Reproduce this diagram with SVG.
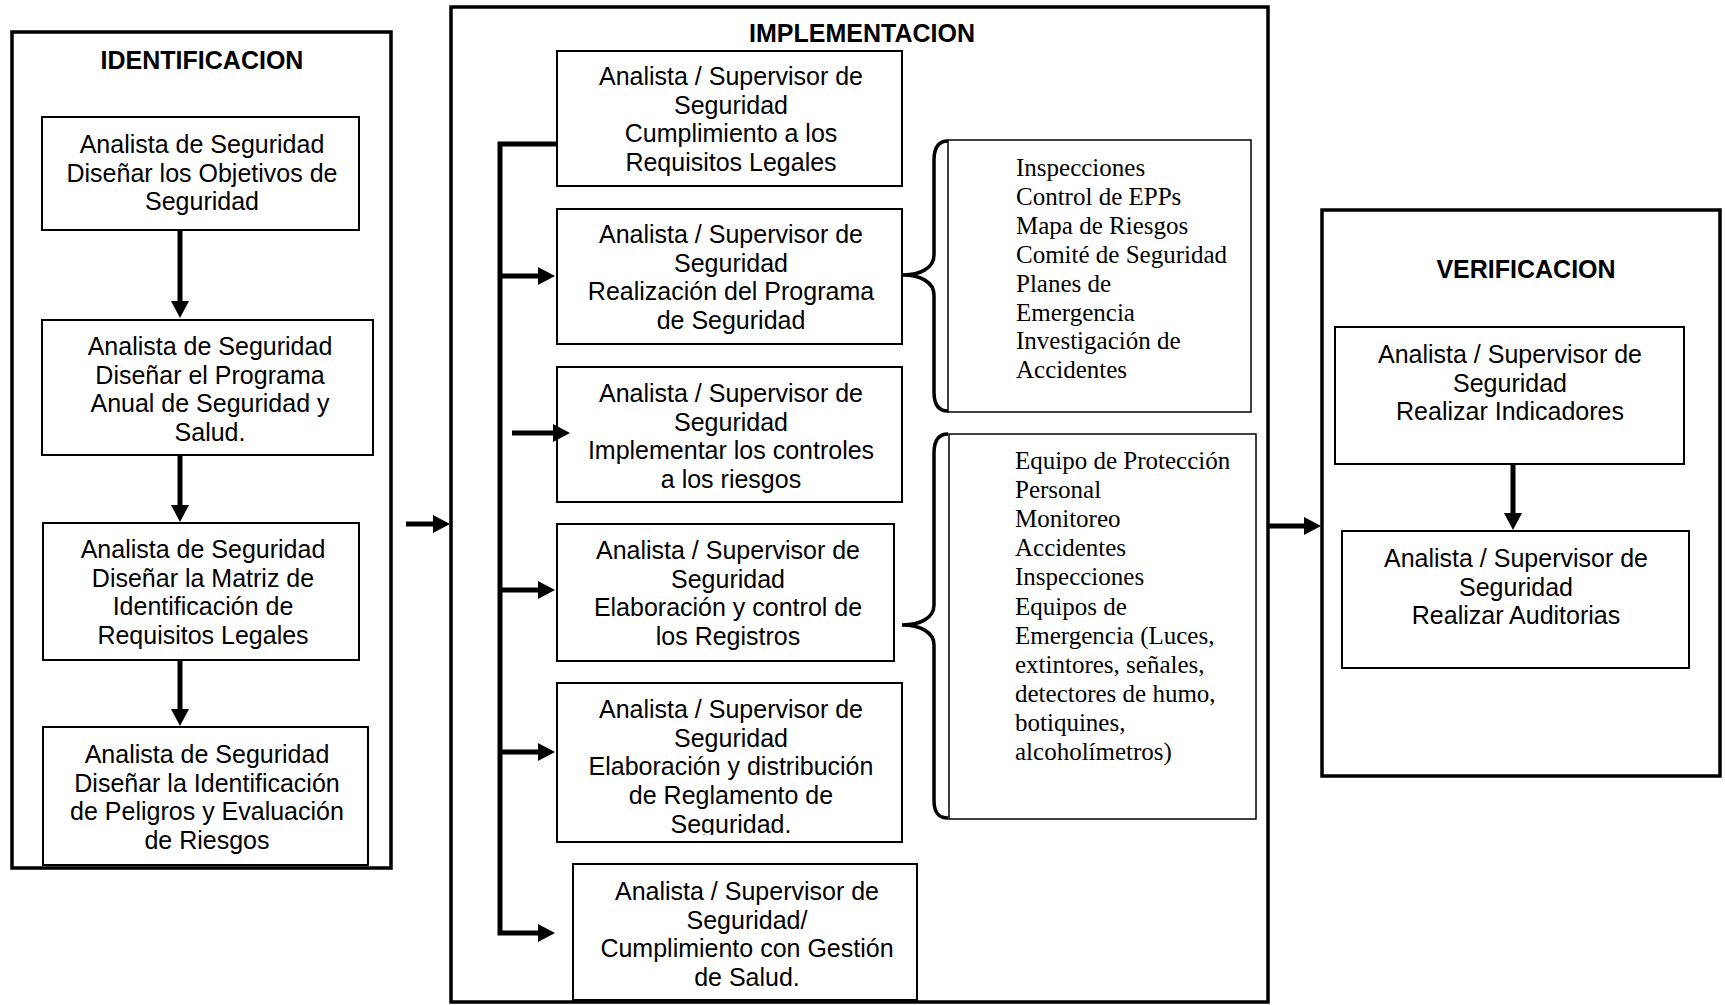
<svg xmlns="http://www.w3.org/2000/svg" width="1725" height="1005" viewBox="0 0 1725 1005">
  <style>
    .frame { fill: none; stroke: #000; stroke-width: 3.5; }
    .box { fill: #fff; stroke: #000; stroke-width: 2; }
    .list { fill: none; stroke: #000; stroke-width: 1.5; }
    .brace { fill: none; stroke: #000; stroke-width: 3.5; }
    .wire { fill: none; stroke: #000; stroke-width: 5; }
    .t { font-family: "Liberation Sans", Arial, sans-serif; font-size: 25px; fill: #000; text-anchor: middle; }
    .h { font-family: "Liberation Sans", Arial, sans-serif; font-size: 25px; font-weight: bold; fill: #000; text-anchor: middle; }
    .s { font-family: "Liberation Serif", "Times New Roman", serif; font-size: 25px; fill: #000; }
  </style>
  <defs>
    <marker id="head" markerUnits="userSpaceOnUse" markerWidth="18" markerHeight="20" refX="0" refY="9" orient="auto" overflow="visible">
      <path d="M0,0 L17,9 L0,18 Z" fill="#000"/>
    </marker>
    <clipPath id="clipI5">
      <rect x="557" y="683" width="345" height="152"/>
    </clipPath>
  </defs>

  <!-- IDENTIFICACION stage -->
  <g id="identificacion">
    <rect class="frame" x="12" y="32" width="379" height="836"/>
    <text class="h" x="202" y="69">IDENTIFICACION</text>
  </g>
  <g id="id1">
    <rect class="box" x="42" y="117" width="317" height="113"/>
    <text class="t" x="202" y="153">Analista de Seguridad</text>
    <text class="t" x="202" y="181.5">Diseñar los Objetivos de</text>
    <text class="t" x="202" y="210">Seguridad</text>
  </g>
  <g id="id2">
    <rect class="box" x="42" y="320" width="331" height="135"/>
    <text class="t" x="210" y="355">Analista de Seguridad</text>
    <text class="t" x="210" y="383.5">Diseñar el Programa</text>
    <text class="t" x="210" y="412">Anual de Seguridad y</text>
    <text class="t" x="210" y="440.5">Salud.</text>
  </g>
  <g id="id3">
    <rect class="box" x="43" y="523" width="316" height="137"/>
    <text class="t" x="203" y="558">Analista de Seguridad</text>
    <text class="t" x="203" y="586.5">Diseñar la Matriz de</text>
    <text class="t" x="203" y="615">Identificación de</text>
    <text class="t" x="203" y="643.5">Requisitos Legales</text>
  </g>
  <g id="id4">
    <rect class="box" x="43" y="727" width="325" height="138"/>
    <text class="t" x="207" y="763">Analista de Seguridad</text>
    <text class="t" x="207" y="791.5">Diseñar la Identificación</text>
    <text class="t" x="207" y="820">de Peligros y Evaluación</text>
    <text class="t" x="207" y="848.5">de Riesgos</text>
  </g>

  <!-- IMPLEMENTACION stage -->
  <g id="implementacion">
    <rect class="frame" x="451" y="7" width="817" height="995"/>
    <text class="h" x="862" y="42">IMPLEMENTACION</text>
  </g>
  <g id="imp1">
    <rect class="box" x="557" y="51" width="345" height="135"/>
    <text class="t" x="731" y="85">Analista / Supervisor de</text>
    <text class="t" x="731" y="113.5">Seguridad</text>
    <text class="t" x="731" y="142">Cumplimiento a los</text>
    <text class="t" x="731" y="170.5">Requisitos Legales</text>
  </g>
  <g id="imp2">
    <rect class="box" x="557" y="209" width="345" height="135"/>
    <text class="t" x="731" y="243">Analista / Supervisor de</text>
    <text class="t" x="731" y="271.5">Seguridad</text>
    <text class="t" x="731" y="300">Realización del Programa</text>
    <text class="t" x="731" y="328.5">de Seguridad</text>
  </g>
  <g id="imp3">
    <rect class="box" x="557" y="367" width="345" height="135"/>
    <text class="t" x="731" y="402">Analista / Supervisor de</text>
    <text class="t" x="731" y="430.5">Seguridad</text>
    <text class="t" x="731" y="459">Implementar los controles</text>
    <text class="t" x="731" y="487.5">a los riesgos</text>
  </g>
  <g id="imp4">
    <rect class="box" x="557" y="524" width="337" height="137"/>
    <text class="t" x="728" y="559">Analista / Supervisor de</text>
    <text class="t" x="728" y="587.5">Seguridad</text>
    <text class="t" x="728" y="616">Elaboración y control de</text>
    <text class="t" x="728" y="644.5">los Registros</text>
  </g>
  <g id="imp5">
    <rect class="box" x="557" y="683" width="345" height="159"/>
    <text class="t" x="731" y="718">Analista / Supervisor de</text>
    <text class="t" x="731" y="746.5">Seguridad</text>
    <text class="t" x="731" y="775">Elaboración y distribución</text>
    <text class="t" x="731" y="803.5">de Reglamento de</text>
    <text class="t" x="731" y="833" clip-path="url(#clipI5)">Seguridad.</text>
  </g>
  <g id="imp6">
    <rect class="box" x="573" y="864" width="344" height="136"/>
    <text class="t" x="747" y="900">Analista / Supervisor de</text>
    <text class="t" x="747" y="928.5">Seguridad/</text>
    <text class="t" x="747" y="957">Cumplimiento con Gestión</text>
    <text class="t" x="747" y="985.5">de Salud.</text>
  </g>
  <g id="lista1">
    <rect class="list" x="948" y="140" width="303" height="272"/>
    <text class="s" x="1016" y="176">Inspecciones</text>
    <text class="s" x="1016" y="204.9">Control de EPPs</text>
    <text class="s" x="1016" y="233.8">Mapa de Riesgos</text>
    <text class="s" x="1016" y="262.7">Comité de Seguridad</text>
    <text class="s" x="1016" y="291.6">Planes de</text>
    <text class="s" x="1016" y="320.5">Emergencia</text>
    <text class="s" x="1016" y="349.4">Investigación de</text>
    <text class="s" x="1016" y="378.3">Accidentes</text>
  </g>
  <g id="lista2">
    <rect class="list" x="949" y="434" width="307" height="385"/>
    <text class="s" x="1015" y="469">Equipo de Protección</text>
    <text class="s" x="1015" y="498.1">Personal</text>
    <text class="s" x="1015" y="527.2">Monitoreo</text>
    <text class="s" x="1015" y="556.3">Accidentes</text>
    <text class="s" x="1015" y="585.4">Inspecciones</text>
    <text class="s" x="1015" y="614.5">Equipos de</text>
    <text class="s" x="1015" y="643.6">Emergencia (Luces,</text>
    <text class="s" x="1015" y="672.7">extintores, señales,</text>
    <text class="s" x="1015" y="701.8">detectores de humo,</text>
    <text class="s" x="1015" y="730.9">botiquines,</text>
    <text class="s" x="1015" y="760">alcoholímetros)</text>
  </g>

  <!-- VERIFICACION stage -->
  <g id="verificacion">
    <rect class="frame" x="1322" y="210" width="398" height="566"/>
    <text class="h" x="1526" y="278">VERIFICACION</text>
  </g>
  <g id="ver1">
    <rect class="box" x="1335" y="327" width="349" height="137"/>
    <text class="t" x="1510" y="363">Analista / Supervisor de</text>
    <text class="t" x="1510" y="391.5">Seguridad</text>
    <text class="t" x="1510" y="420">Realizar Indicadores</text>
  </g>
  <g id="ver2">
    <rect class="box" x="1342" y="531" width="347" height="137"/>
    <text class="t" x="1516" y="567">Analista / Supervisor de</text>
    <text class="t" x="1516" y="595.5">Seguridad</text>
    <text class="t" x="1516" y="624">Realizar Auditorias</text>
  </g>

  <!-- connectors -->
  <g id="connectors">
    <path class="wire" d="M180,230 V301" marker-end="url(#head)"/>
    <path class="wire" d="M180,455 V505" marker-end="url(#head)"/>
    <path class="wire" d="M180,660 V709" marker-end="url(#head)"/>
    <path class="wire" d="M406,524 H433" marker-end="url(#head)"/>
    <path class="wire" d="M557,144 H500 V933 H538" stroke-linejoin="miter" marker-end="url(#head)"/>
    <path class="wire" d="M500,276 H538" marker-end="url(#head)"/>
    <path class="wire" d="M512,433 H553" marker-end="url(#head)"/>
    <path class="wire" d="M500,590 H538" marker-end="url(#head)"/>
    <path class="wire" d="M500,752 H538" marker-end="url(#head)"/>
    <path class="brace" d="M948,141 C938,141 934,148 934,160 V255 C934,268 920,275 903,275 C920,275 934,282 934,295 V392 C934,404 938,411 948,411"/>
    <path class="brace" d="M948,434 C938,434 934,441 934,453 V605 C934,618 920,625 902,625 C920,625 934,632 934,645 V800 C934,812 938,818 948,818"/>
    <path class="wire" d="M1268,526 H1304" marker-end="url(#head)"/>
    <path class="wire" d="M1513,464 V513" marker-end="url(#head)"/>
  </g>
</svg>
